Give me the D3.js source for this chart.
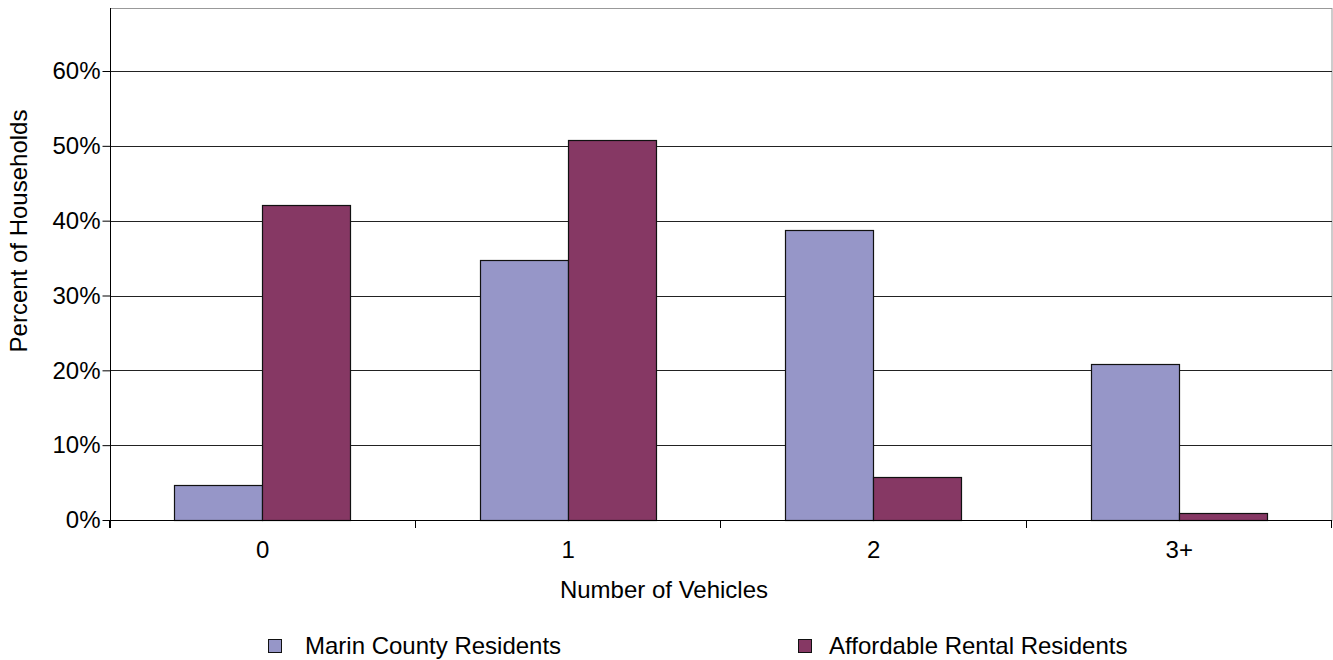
<!DOCTYPE html>
<html><head><meta charset="utf-8">
<script src="https://cdn.jsdelivr.net/npm/d3@7"></script>
<style>
html,body{margin:0;padding:0;background:#fff;}
svg{display:block;font-family:"Liberation Sans",Arial,sans-serif;}
</style></head>
<body>
<svg id="c" width="1333" height="660"></svg>
<script>
const categories = ["0", "1", "2", "3+"];
const seriesNames = ["Marin County Residents", "Affordable Rental Residents"];
const marinValues = [4.7, 34.7, 38.7, 20.8];
const affordableValues = [42.1, 50.8, 5.7, 1.0];
const yTicks = [0, 10, 20, 30, 40, 50, 60];
const colors = ["#9696C8", "#863864"];

const svg = d3.select("#c");
const L = 110, R = 1332, T = 8, B = 520;
const fs = 24;

const x0 = d3.scaleBand().domain(categories).range([L, R]).padding(0);
const x1 = d3.scaleBand().domain(seriesNames)
  .range([x0.bandwidth() * 0.21, x0.bandwidth() * 0.788]).padding(0);
const y = d3.scaleLinear().domain([0, 60]).range([B, 71]);

// plot border
svg.append("rect").attr("x", L + 0.5).attr("y", T + 0.5)
  .attr("width", R - L - 0.5).attr("height", B - T)
  .attr("fill", "none").attr("stroke", "#999").attr("stroke-width", 1);

// gridlines + y ticks
const yAxis = d3.axisLeft(y).tickValues(yTicks).tickSize(8).tickFormat(d => d + "%").tickPadding(2);
const gy = svg.append("g").attr("transform", `translate(${L + 0.5},0)`).call(yAxis);
gy.select(".domain").remove();
gy.selectAll(".tick line").attr("stroke", "#000");
gy.selectAll(".tick text").attr("font-size", fs).attr("fill", "#000")
  .attr("font-family", '"Liberation Sans",Arial,sans-serif');
svg.append("g").selectAll("line").data(yTicks.filter(d => d > 0)).join("line")
  .attr("x1", L).attr("x2", R).attr("y1", d => Math.round(y(d)) + 0.5).attr("y2", d => Math.round(y(d)) + 0.5)
  .attr("stroke", "#222").attr("stroke-width", 1);

// bars
const data = categories.map((c, i) => ({cat: c, vals: [marinValues[i], affordableValues[i]]}));
const g = svg.append("g");
data.forEach(d => {
  d.vals.forEach((v, j) => {
    g.append("rect")
      .attr("x", Math.round(x0(d.cat) + x1(seriesNames[j])) + 0.5)
      .attr("y", Math.round(y(v)) + 0.5)
      .attr("width", Math.round(x1.bandwidth()))
      .attr("height", Math.round(B - y(v)))
      .attr("fill", colors[j]).attr("stroke", "#111").attr("stroke-width", 1.2);
  });
});

// axes lines
svg.append("line").attr("x1", L + 0.5).attr("x2", L + 0.5).attr("y1", T).attr("y2", B + 8).attr("stroke", "#000");
svg.append("line").attr("x1", L).attr("x2", R).attr("y1", B + 0.5).attr("y2", B + 0.5).attr("stroke", "#000");
// category boundary ticks
const bounds = categories.map(c => x0(c)).concat([R]);
svg.append("g").selectAll("line").data(bounds).join("line")
  .attr("x1", d => Math.round(d) - 0.5).attr("x2", d => Math.round(d) - 0.5)
  .attr("y1", B).attr("y2", B + 8).attr("stroke", "#000");
// category labels
svg.append("g").selectAll("text").data(categories).join("text")
  .attr("x", d => x0(d) + x0.bandwidth() / 2).attr("y", 558)
  .attr("text-anchor", "middle").attr("font-size", fs).attr("fill", "#000").text(d => d);

// axis titles
svg.append("text").attr("x", 664).attr("y", 598).attr("text-anchor", "middle")
  .attr("font-size", fs).attr("fill", "#000").text("Number of Vehicles");
svg.append("text").attr("transform", "translate(27,231) rotate(-90)").attr("text-anchor", "middle")
  .attr("font-size", fs).attr("fill", "#000").text("Percent of Households");

// legend
const legX = [268, 798], txtX = [305, 829];
seriesNames.forEach((n, j) => {
  svg.append("rect").attr("x", legX[j] + 0.5).attr("y", 639.5).attr("width", 13).attr("height", 13)
    .attr("fill", colors[j]).attr("stroke", "#111").attr("stroke-width", 1);
  svg.append("text").attr("x", txtX[j]).attr("y", 654).attr("font-size", fs).attr("fill", "#000").text(n);
});
</script>
</body></html>
